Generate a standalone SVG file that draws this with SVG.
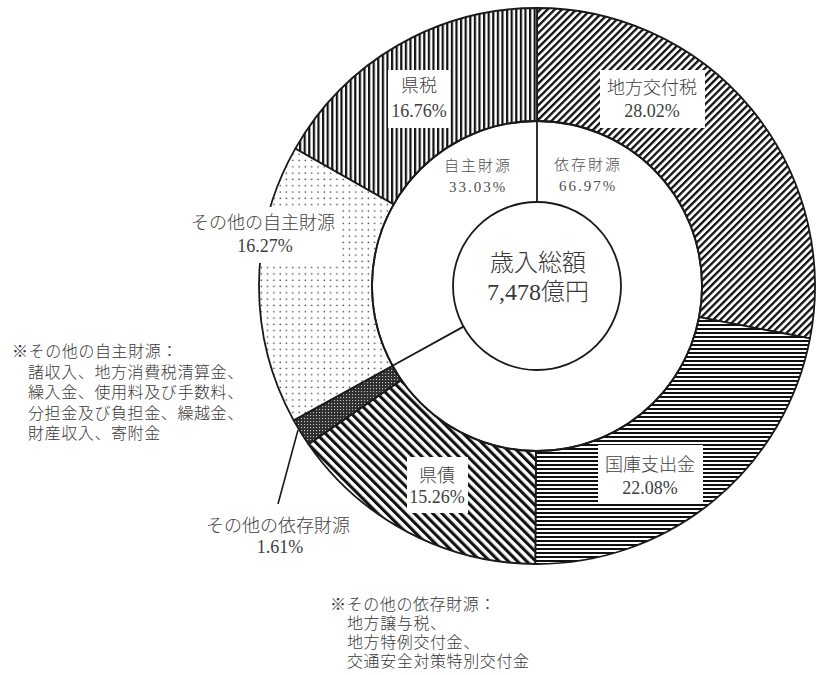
<svg xmlns="http://www.w3.org/2000/svg" width="816" height="675" viewBox="0 0 816 675">
<style>
  .seg { stroke: #1a1a1a; stroke-width: 1.8; stroke-linejoin: round; }
  .ring { fill: none; stroke: #1a1a1a; stroke-width: 1.8; }
  .box { fill: #ffffff; stroke: none; }
  .lbl { font-family: "Liberation Serif", "Noto Sans CJK JP", serif; font-size: 18px; font-weight: 300; fill: #404040; text-anchor: middle; }
  .inner { font-family: "Liberation Serif", "Noto Sans CJK JP", serif; font-size: 15px; font-weight: 300; fill: #505050; text-anchor: middle; letter-spacing: 2px; }
  .ctr { font-family: "Liberation Serif", "Noto Sans CJK JP", serif; font-size: 24px; font-weight: 300; fill: #383838; text-anchor: middle; }
  .note { font-family: "Liberation Serif", "Noto Sans CJK JP", serif; font-size: 16px; font-weight: 300; fill: #383838; letter-spacing: 0.6px; }
  .lead { stroke: #1a1a1a; stroke-width: 1.6; fill: none; }
</style>
<defs>
  <pattern id="pFwd" patternUnits="userSpaceOnUse" width="5.1" height="10" patternTransform="rotate(45)">
    <rect width="5.1" height="10" fill="#fff"/>
    <rect x="0" y="0" width="2.3" height="10" fill="#111"/>
  </pattern>
  <pattern id="pHor" patternUnits="userSpaceOnUse" width="10" height="4">
    <rect width="10" height="4" fill="#fff"/>
    <rect x="0" y="0" width="10" height="2" fill="#111"/>
  </pattern>
  <pattern id="pBack" patternUnits="userSpaceOnUse" width="6.5" height="10" patternTransform="rotate(-45)">
    <rect width="6.5" height="10" fill="#fff"/>
    <rect x="0" y="0" width="3.1" height="10" fill="#111"/>
  </pattern>
  <pattern id="pCross" patternUnits="userSpaceOnUse" width="3" height="3">
    <rect width="3" height="3" fill="#2e2e2e"/>
    <rect x="1" y="1" width="1.1" height="1.1" fill="#c4c4c4"/>
  </pattern>
  <pattern id="pDot" patternUnits="userSpaceOnUse" width="6.3" height="6.3">
    <rect width="6.3" height="6.3" fill="#fff"/>
    <circle cx="3" cy="3" r="0.8" fill="#3a3a3a"/>
  </pattern>
  <pattern id="pVer" patternUnits="userSpaceOnUse" width="4.6" height="10">
    <rect width="4.6" height="10" fill="#fff"/>
    <rect x="0" y="0" width="2.2" height="10" fill="#111"/>
  </pattern>
</defs>

<rect width="816" height="675" fill="#ffffff"/>

<g id="segments">
  <g id="seg-chihokofuzei"><path class="seg" fill="url(#pFwd)" d="M537,8 A278,278 0 0 1 810.01,338.43 L699.04,317.12 A165,165 0 0 0 537,121 Z"/></g>
  <g id="seg-kokkoshishutsukin"><path class="seg" fill="url(#pHor)" d="M810.01,338.43 A278,278 0 0 1 535.25,563.99 L535.96,451.0 A165,165 0 0 0 699.04,317.12 Z"/></g>
  <g id="seg-kensai"><path class="seg" fill="url(#pBack)" d="M535.25,563.99 A278,278 0 0 1 308.46,444.28 L401.35,379.94 A165,165 0 0 0 535.96,451.0 Z"/></g>
  <g id="seg-sonota-izon"><path class="seg" fill="url(#pCross)" d="M308.46,444.28 A278,278 0 0 1 293.64,420.39 L392.56,365.76 A165,165 0 0 0 401.35,379.94 Z"/></g>
  <g id="seg-sonota-jishu"><path class="seg" fill="url(#pDot)" d="M293.64,420.39 A278,278 0 0 1 295.43,148.41 L393.62,204.34 A165,165 0 0 0 392.56,365.76 Z"/></g>
  <g id="seg-kenzei"><path class="seg" fill="url(#pVer)" d="M295.43,148.41 A278,278 0 0 1 537,8 L537,121 A165,165 0 0 0 393.62,204.34 Z"/></g>
</g>

<g id="inner-ring">
  <circle class="ring" cx="537" cy="286" r="165" fill="#fff"/>
  <line class="ring" x1="537" y1="121" x2="537" y2="202"/>
  <line class="ring" x1="392.56" y1="365.76" x2="463.47" y2="326.61"/>
</g>

<g id="center">
  <circle class="ring" cx="537" cy="286" r="84" fill="#fff"/>
  <text class="ctr" x="538" y="271">歳入総額</text>
  <text class="ctr" x="538" y="300">7,478億円</text>
</g>

<g id="connectors">
  <line class="lead" x1="298" y1="430" x2="278" y2="504"/>
</g>

<g id="label-kenzei">
  <rect class="box" x="388" y="70" width="62" height="58"/>
  <text class="lbl" x="419" y="92">県税</text>
  <text class="lbl" x="419" y="117">16.76%</text>
</g>
<g id="label-chihokofuzei">
  <rect class="box" x="600" y="70" width="105" height="58"/>
  <text class="lbl" x="652" y="94">地方交付税</text>
  <text class="lbl" x="652" y="117">28.02%</text>
</g>
<g id="label-kokko">
  <rect class="box" x="598" y="445" width="105" height="58"/>
  <text class="lbl" x="650" y="471">国庫支出金</text>
  <text class="lbl" x="650" y="494">22.08%</text>
</g>
<g id="label-kensai">
  <rect class="box" x="407" y="457" width="61" height="56"/>
  <text class="lbl" x="437" y="482">県債</text>
  <text class="lbl" x="437" y="503">15.26%</text>
</g>
<g id="label-sonota-jishu">
  <rect class="box" x="180" y="207" width="161" height="56"/>
  <text class="lbl" x="263" y="229">その他の自主財源</text>
  <text class="lbl" x="265" y="252">16.27%</text>
</g>
<g id="label-sonota-izon">
  <text class="lbl" x="278" y="532">その他の依存財源</text>
  <text class="lbl" x="280" y="553">1.61%</text>
</g>

<g id="label-inner-jishu">
  <text class="inner" x="478" y="171">自主財源</text>
  <text class="inner" x="478" y="192">33.03%</text>
</g>
<g id="label-inner-izon">
  <text class="inner" x="588" y="170">依存財源</text>
  <text class="inner" x="588" y="191">66.97%</text>
</g>

<g id="note-jishu">
  <text class="note" x="12" y="357">※その他の自主財源：</text>
  <text class="note" x="28" y="377.5">諸収入、地方消費税清算金、</text>
  <text class="note" x="28" y="398">繰入金、使用料及び手数料、</text>
  <text class="note" x="28" y="418.5">分担金及び負担金、繰越金、</text>
  <text class="note" x="28" y="439">財産収入、寄附金</text>
</g>
<g id="note-izon">
  <text class="note" x="330" y="610">※その他の依存財源：</text>
  <text class="note" x="347" y="628.5">地方譲与税、</text>
  <text class="note" x="347" y="647.5">地方特例交付金、</text>
  <text class="note" x="347" y="667">交通安全対策特別交付金</text>
</g>
</svg>
